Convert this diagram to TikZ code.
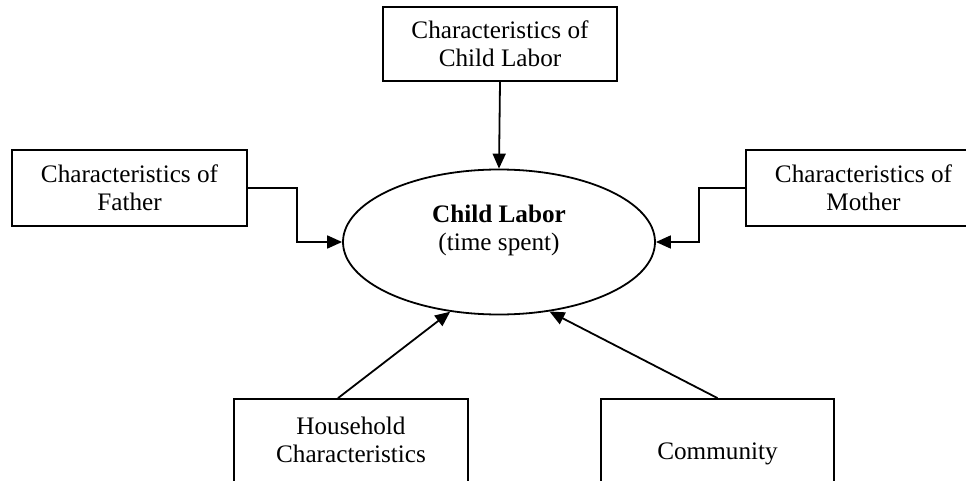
\documentclass[tikz,border=0pt]{standalone}
\usepackage{fontspec}
\setmainfont{Liberation Serif}
\usetikzlibrary{arrows.meta,calc,shapes.geometric}
\begin{document}
\begin{tikzpicture}[x=1pt,y=-1pt,
  font=\fontsize{25.2}{28}\selectfont,
  box/.style={draw,line width=1.8pt,rectangle,inner sep=0pt,align=center,minimum width=#1},
  box/.default=235pt,
  oval/.style={draw,line width=1.8pt,ellipse,inner sep=0pt,minimum width=312pt,minimum height=145pt},
  txt/.style={align=center,inner sep=0pt},
  conn/.style={line width=1.8pt,-{Triangle[length=15pt,width=13pt]}}]
\useasboundingbox (0,0) rectangle (966,481);
\clip (0,0) rectangle (966,481);
\node[box=234pt,minimum height=74pt] (top) at (500,44) {Characteristics of\\Child Labor};
\node[box,minimum height=76pt] (father) at (129.5,188) {Characteristics of\\Father};
\node[box,minimum height=76pt] (mother) at (863.5,188) {Characteristics of\\Mother};
\node[oval] (cl) at (499,242) {};
\node[txt] (cltext) at (499,230) {\textbf{Child Labor}\\(time spent)};
\node[box=234pt,minimum height=110pt] (hh) at (351,454) {};
\node[txt] (hhtext) at (351,440) {Household\\Characteristics};
\node[box=233pt,minimum height=110pt] (comm) at (717.5,454) {Community};
\draw[conn] (top.south) -- (cl.north);
\draw[conn] (father.east) -- ++(49,0) |- (cl.west);
\draw[conn] (mother.west) -- ++(-46,0) |- (cl.east);
\draw[conn] ($(hh.north)+(-13,0)$) -- (cl.235);
\draw[conn] (comm.north) -- (cl.306);
\end{tikzpicture}
\end{document}
